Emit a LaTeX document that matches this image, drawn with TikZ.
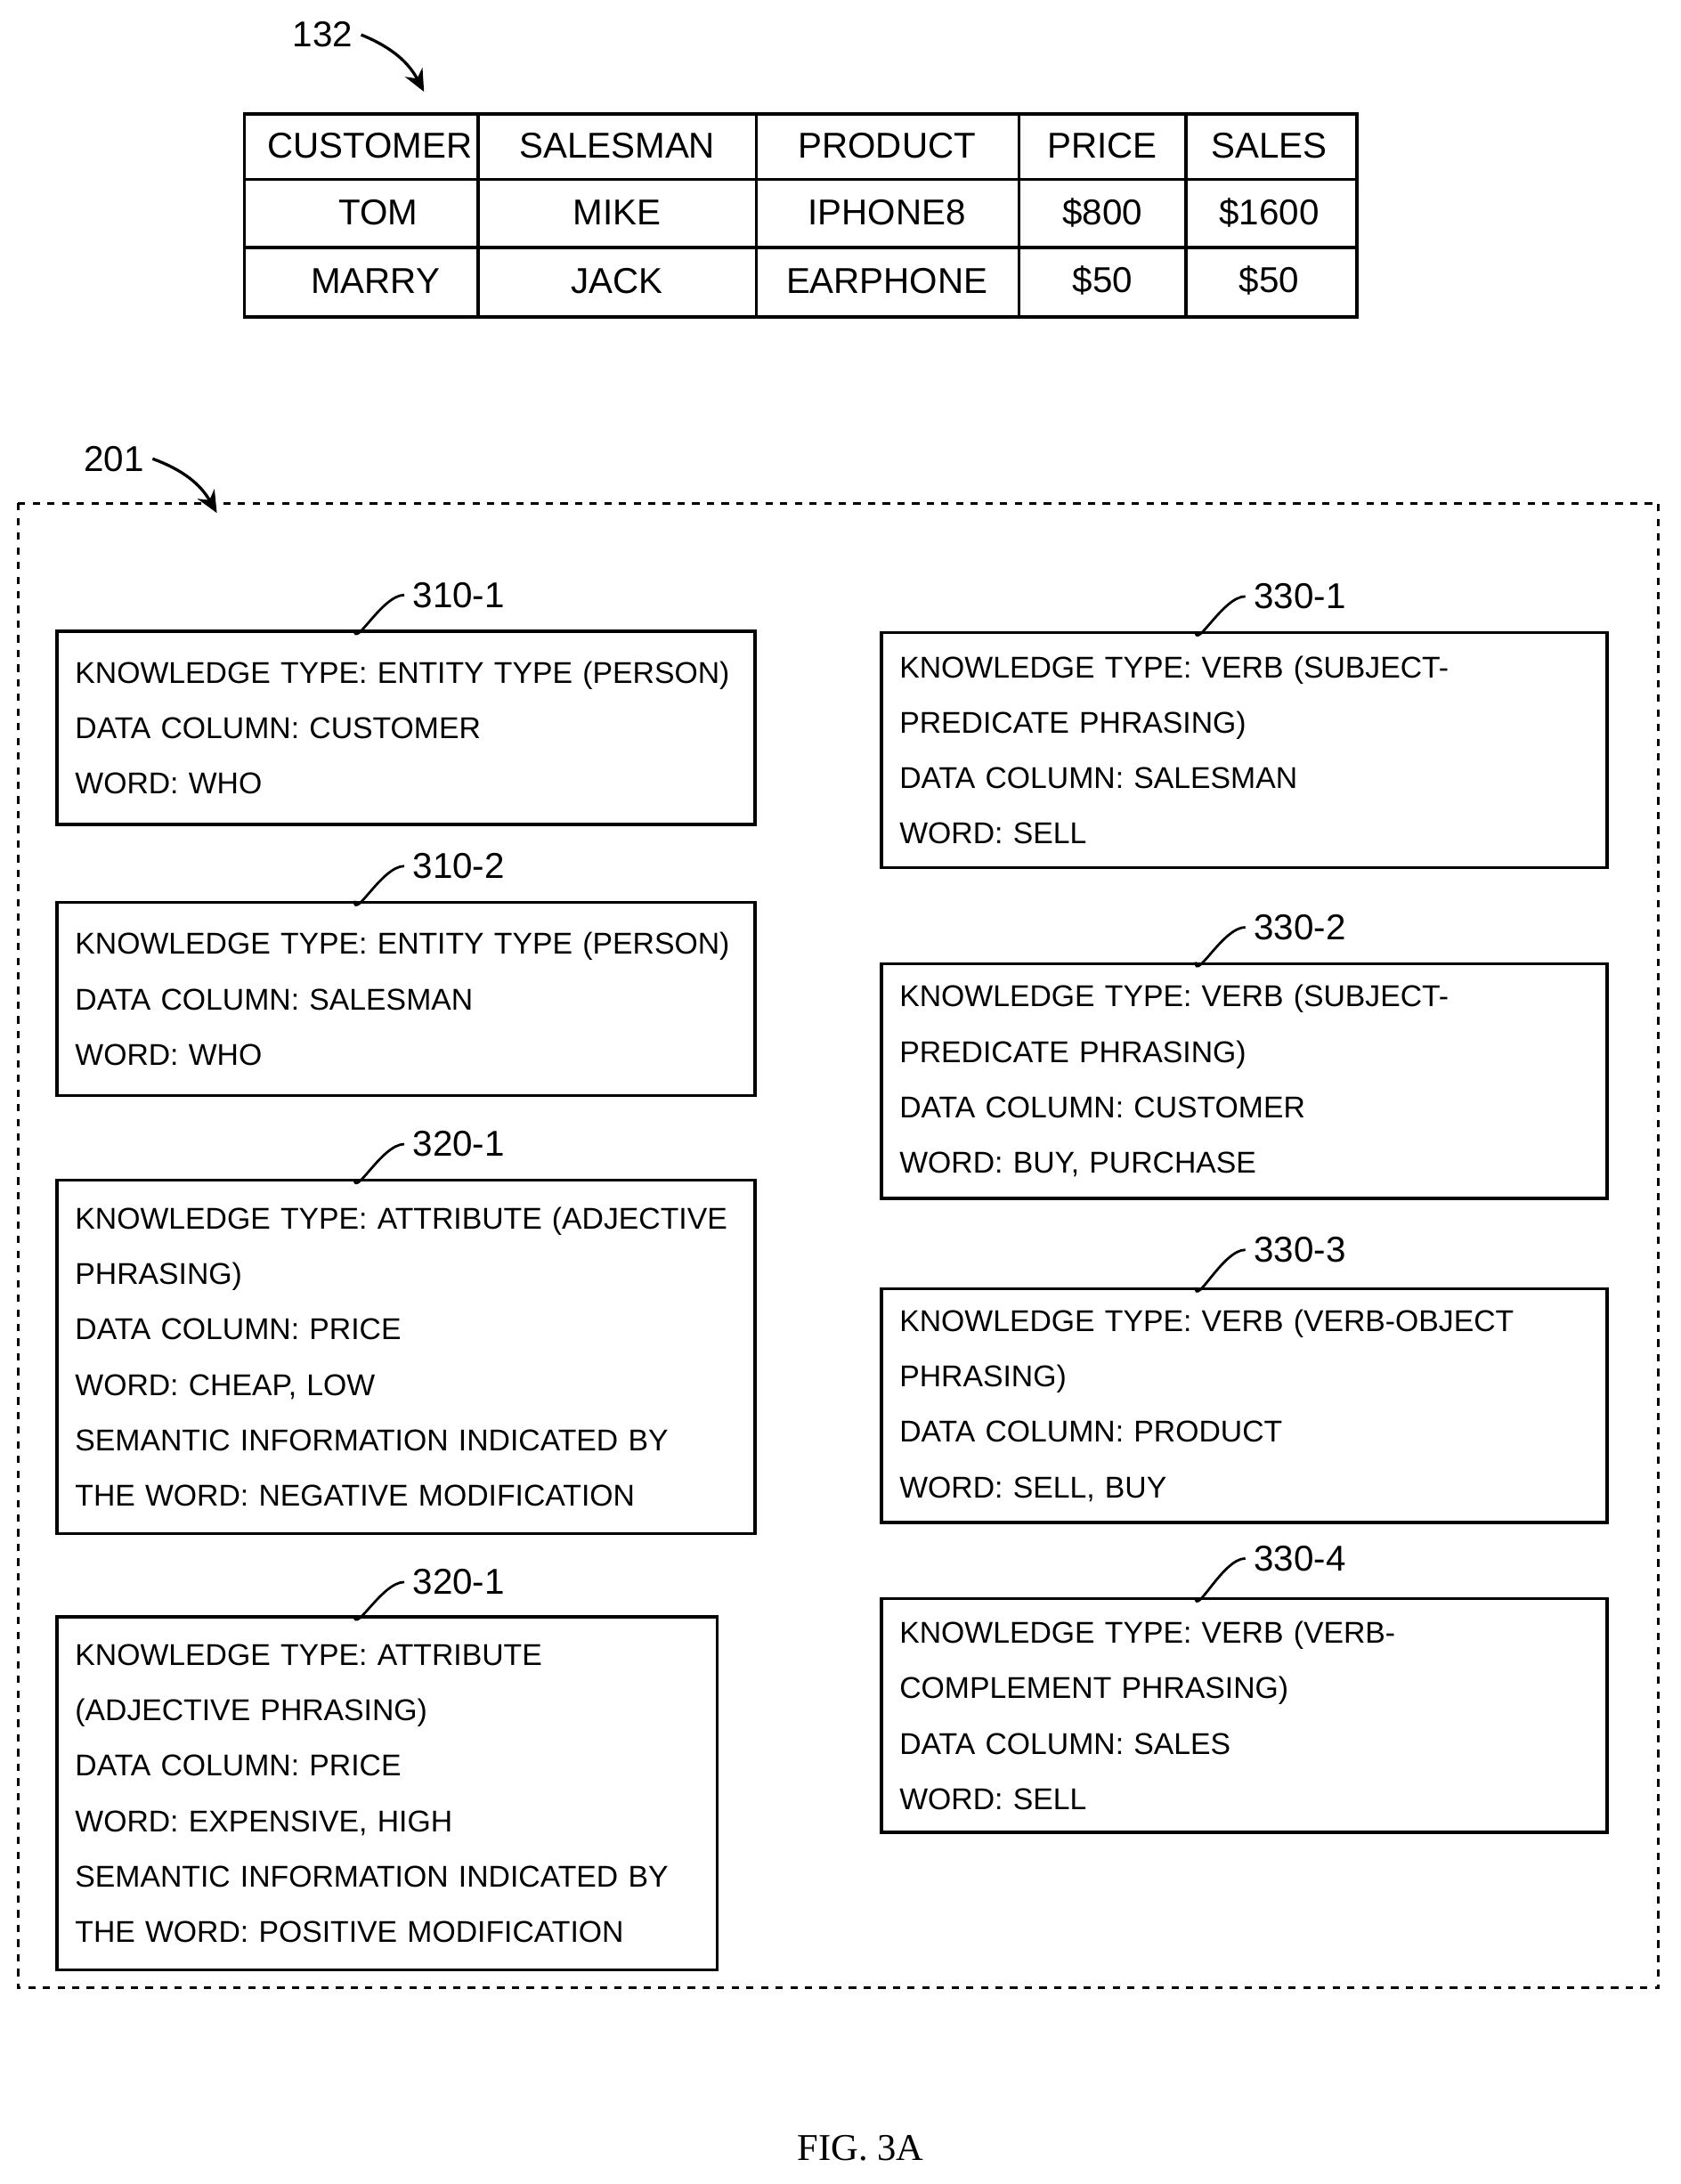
\documentclass[tikz,border=0pt]{standalone}
\usepackage{fontspec}
\setmainfont{Liberation Sans}
\newfontfamily\figfont{Liberation Serif}
\usetikzlibrary{arrows.meta}
\tikzset{
  kbox/.style 2 args={draw,line width=1.2pt,anchor=north west,align=left,inner xsep=0.26cm,
    font=\fontsize{12.3}{22.7}\selectfont,minimum height=#1,text width=#2},
  lbl/.style={font=\fontsize{14.7}{16}\selectfont},
  leader/.style={line width=1pt},
  refarrow/.style={line width=1.2pt,-{Stealth[length=9pt,width=8pt]}},
  cell/.style={font=\fontsize{14.7}{16}\selectfont}
}
\begin{document}
\begin{tikzpicture}[x=0.02cm,y=-0.02cm]
\useasboundingbox (0,0) rectangle (1209,1571);

%table 132
\draw[line width=1.2pt] (176,82) rectangle (976,228);
\foreach \yy in {129,178} \draw[line width=1.2pt] (176,\yy) -- (976,\yy);
\foreach \xx in {344,544,733,853} \draw[line width=1.2pt] (\xx,82) -- (\xx,228);
\node[cell] (c11) at (266,105) {CUSTOMER};
\node[cell] (c12) at (444,105) {SALESMAN};
\node[cell] (c13) at (638,105) {PRODUCT};
\node[cell] (c14) at (793,105) {PRICE};
\node[cell] (c15) at (913,105) {SALES};
\node[cell] (c21) at (272,153) {TOM};
\node[cell] (c22) at (444,153) {MIKE};
\node[cell] (c23) at (638,153) {IPHONE8};
\node[cell] (c24) at (793,153) {\$800};
\node[cell] (c25) at (913,153) {\$1600};
\node[cell] (c31) at (270,202) {MARRY};
\node[cell] (c32) at (444,202) {JACK};
\node[cell] (c33) at (638,202) {EARPHONE};
\node[cell] (c34) at (793,202) {\$50};
\node[cell] (c35) at (913,202) {\$50};
\node[lbl] (t132) at (232,25) {132};
\coordinate (t132tip) at (305,66);
\draw[refarrow] (t132.east) to[bend left=20] (t132tip);

%knowledge base 201
\draw[dashed,line width=1pt] (13,362) rectangle (1193,1430);
\node[lbl] (t201) at (82,330) {201};
\coordinate (t201tip) at (156,369);
\draw[refarrow] (t201.east) to[bend left=20] (t201tip);

%left column
\node[kbox={139*0.02cm}{476*0.02cm}] (b311) at (40,453)
  {KNOWLEDGE TYPE: ENTITY TYPE (PERSON)\\DATA COLUMN: CUSTOMER\\WORD: WHO};
\node[kbox={139*0.02cm}{476*0.02cm}] (b312) at (40,648)
  {KNOWLEDGE TYPE: ENTITY TYPE (PERSON)\\DATA COLUMN: SALESMAN\\WORD: WHO};
\node[kbox={254*0.02cm}{476*0.02cm}] (b321) at (40,848)
  {KNOWLEDGE TYPE: ATTRIBUTE (ADJECTIVE\\PHRASING)\\DATA COLUMN: PRICE\\WORD: CHEAP, LOW\\SEMANTIC INFORMATION INDICATED BY\\THE WORD: NEGATIVE MODIFICATION};
\node[kbox={254*0.02cm}{449*0.02cm}] (b322) at (40,1162)
  {KNOWLEDGE TYPE: ATTRIBUTE\\(ADJECTIVE PHRASING)\\DATA COLUMN: PRICE\\WORD: EXPENSIVE, HIGH\\SEMANTIC INFORMATION INDICATED BY\\THE WORD: POSITIVE MODIFICATION};

%right column
\node[kbox={169*0.02cm}{496*0.02cm}] (b331) at (633,454)
  {KNOWLEDGE TYPE: VERB (SUBJECT-\\PREDICATE PHRASING)\\DATA COLUMN: SALESMAN\\WORD: SELL};
\node[kbox={169*0.02cm}{496*0.02cm}] (b332) at (633,692)
  {KNOWLEDGE TYPE: VERB (SUBJECT-\\PREDICATE PHRASING)\\DATA COLUMN: CUSTOMER\\WORD: BUY, PURCHASE};
\node[kbox={168*0.02cm}{496*0.02cm}] (b333) at (633,926)
  {KNOWLEDGE TYPE: VERB (VERB-OBJECT\\PHRASING)\\DATA COLUMN: PRODUCT\\WORD: SELL, BUY};
\node[kbox={168*0.02cm}{496*0.02cm}] (b334) at (633,1149)
  {KNOWLEDGE TYPE: VERB (VERB-\\COMPLEMENT PHRASING)\\DATA COLUMN: SALES\\WORD: SELL};

%reference labels
\foreach \bx/\lb/\ly/\lx/\sx in {b311/310-1/428/330/255, b312/310-2/623/330/255, b321/320-1/823/330/255, b322/320-1/1138/330/255,
  b331/330-1/429/935/860, b332/330-2/667/935/860, b333/330-3/899/935/860, b334/330-4/1121/935/860}{
  \node[lbl] (l\bx) at (\lx,\ly) {\lb};
  \coordinate (s\bx) at (\sx,0);
  \draw[leader] (s\bx |- \bx.north) .. controls ([yshift=-14*0.02cm]s\bx |- \bx.north) and ([xshift=-16*0.02cm]l\bx.west) .. (l\bx.west);
}

\node[font=\figfont\fontsize{15.5}{18}\selectfont] (fig) at (619,1545) {FIG. 3A};
\end{tikzpicture}
\end{document}
